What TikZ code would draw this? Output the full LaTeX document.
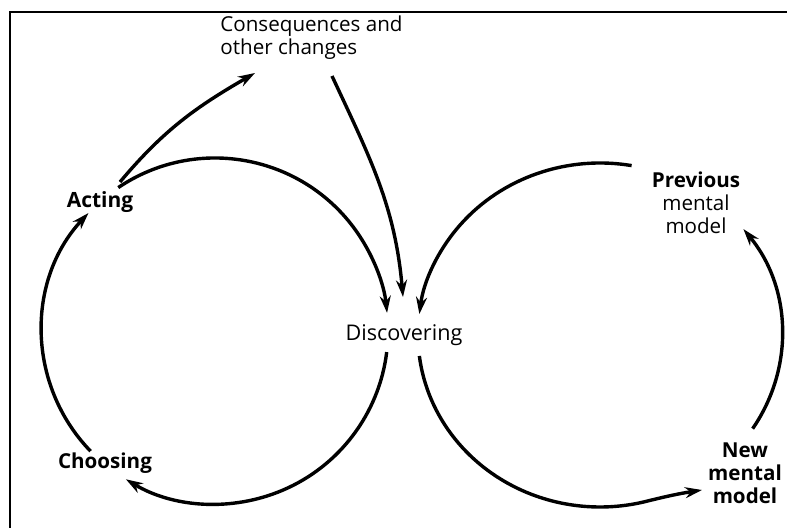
\documentclass[tikz,border=0pt]{standalone}
\usepackage{fontspec}
\setmainfont{Open Sans}
\usetikzlibrary{arrows.meta,calc}

\tikzset{
	flow/.style={line width=1.7pt, -{Stealth[length=8.5pt,width=5.5pt]}},
	lbl/.style={font=\fontsize{10.3}{11.5}\selectfont, inner sep=0pt},
}

\begin{document}
\begin{tikzpicture}[x=0.5pt, y=0.5pt]
		\useasboundingbox (0,0) rectangle (787,530);
		% frame
		\draw[line width=1pt] (10,2) -- (10,518) -- (787,518);
		% circle centres
		\coordinate (L) at (215,199);
		\coordinate (R) at (600,195);
		% labels
		\node[lbl, align=left, anchor=west] (cons) at (220,492) {Consequences and\\other changes};
		\node[lbl, font=\bfseries\fontsize{10.5}{11.5}\selectfont] (acting) at (100,328) {Acting};
		\node[lbl, font=\fontsize{10.8}{11.5}\selectfont] (disc) at (404,195) {Discovering};
		\node[lbl, font=\bfseries\fontsize{10.3}{11.5}\selectfont] (choosing) at (105,67) {Choosing};
		\node[lbl, align=center] (prev) at (696,327) {\textbf{Previous}\\mental\\model};
		\node[lbl, align=center, font=\bfseries\fontsize{10.3}{11.5}\selectfont] (newmm) at (745,57) {New\\mental\\model};
		% arc ends
		\coordinate (actout) at (120,348);
		\coordinate (consin) at (255,457);
		\coordinate (consout) at (332,454);
		\coordinate (discin) at (403,233);
		\coordinate (newtip) at (702,40);
		% left loop
		\draw[flow] ($(L)+(124:173)$) arc[start angle=124, end angle=6, radius=173];
		\draw[flow] ($(L)+(-7:173)$) arc[start angle=-7, end angle=-121, radius=173];
		\draw[flow] ($(L)+(224:173)$) arc[start angle=224, end angle=137, radius=173];
		% consequences
		\draw[flow] (actout) to[out=50, in=210] (consin);
		\draw[flow] (consout) to[out=-65, in=95] (discin);
		% right loop
		\draw[flow] ($(R)+({182*cos(80)},{172*sin(80)})$) arc[start angle=80, end angle=173, x radius=182, y radius=172];
		\draw[flow] ($(R)+({182*cos(187)},{172*sin(187)})$) arc[start angle=187, end angle=285, x radius=182, y radius=172] to[out=14, in=189] (newtip);
		\draw[flow] ($(R)+({182*cos(327)},{172*sin(327)})$) arc[start angle=327, end angle=398, x radius=182, y radius=172];
	\end{tikzpicture}
\end{document}
